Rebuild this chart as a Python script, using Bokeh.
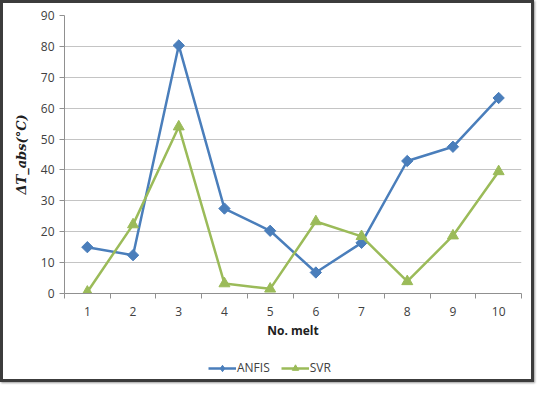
import math
from bokeh.plotting import figure
from bokeh.models import FixedTicker, Legend, LegendItem, Range1d
from bokeh.layouts import column
from bokeh.embed import file_html
from bokeh.resources import INLINE

melts = [1, 2, 3, 4, 5, 6, 7, 8, 9, 10]
x_labels = ["1", "2", "3", "4", "5", "6", "7", "8", "9", "10"]
anfis = [15.0, 12.4, 80.3, 27.5, 20.3, 6.8, 16.4, 42.9, 47.5, 63.3]
svr = [0.5, 22.3, 54.0, 3.2, 1.5, 23.3, 18.5, 3.9, 18.7, 39.5]
y_ticks = [0, 10, 20, 30, 40, 50, 60, 70, 80, 90]
series_names = ["ANFIS", "SVR"]

FONT = "Open Sans"
TXT = "#404040"
C_ANFIS = "#4a7ebb"
C_SVR = "#9bbb59"

p = figure(width=528, height=340, output_backend="svg", toolbar_location=None,
           x_range=Range1d(0.5, 10.5), y_range=Range1d(0, 90),
           min_border_left=61, min_border_right=10, min_border_top=12, min_border_bottom=50)
p.outline_line_color = None
p.xgrid.grid_line_color = None
p.ygrid.grid_line_color = "#c4c4c4"
p.ygrid.grid_line_width = 1.2

p.xaxis.ticker = FixedTicker(ticks=melts, minor_ticks=[m - 0.5 for m in melts] + [10.5])
p.xaxis.major_label_overrides = {m: l for m, l in zip(melts, x_labels)}
p.xaxis.major_tick_out = 0
p.xaxis.major_tick_in = 0
p.xaxis.minor_tick_out = 5
p.xaxis.minor_tick_in = 0
p.xaxis.minor_tick_line_color = "#909090"
p.xaxis.axis_line_color = "#909090"
p.xaxis.major_label_text_font = FONT
p.xaxis.major_label_text_font_size = "12px"
p.xaxis.major_label_text_color = TXT
p.xaxis.major_label_standoff = 8
p.xaxis.axis_label = "No. melt"
p.xaxis.axis_label_text_font = FONT
p.xaxis.axis_label_text_font_size = "12px"
p.xaxis.axis_label_text_font_style = "bold"
p.xaxis.axis_label_text_color = "#202020"
p.xaxis.axis_label_standoff = 3

p.yaxis.ticker = FixedTicker(ticks=y_ticks, minor_ticks=[])
p.yaxis.major_tick_out = 5
p.yaxis.major_tick_in = 0
p.yaxis.major_tick_line_color = "#909090"
p.yaxis.axis_line_color = "#909090"
p.yaxis.major_label_text_font = FONT
p.yaxis.major_label_text_font_size = "12px"
p.yaxis.major_label_text_color = TXT
p.yaxis.major_label_standoff = 5
p.yaxis.axis_label = "ΔT_abs(°C)"
p.yaxis.axis_label_text_font = "DejaVu Serif"
p.yaxis.axis_label_text_font_size = "13px"
p.yaxis.axis_label_text_font_style = "bold italic"
p.yaxis.axis_label_text_color = "#202020"
p.yaxis.axis_label_standoff = 9

p.line(melts, anfis, line_color=C_ANFIS, line_width=2.5)
p.scatter(melts, anfis, marker="square", angle=math.pi / 4, size=8,
          fill_color=C_ANFIS, line_color=C_ANFIS)
p.line(melts, svr, line_color=C_SVR, line_width=2.5)
p.scatter(melts, svr, marker="triangle", size=11, fill_color=C_SVR, line_color=C_SVR)

# legend strip below the chart: same series drawn out of view, used only as legend glyphs
q = figure(width=528, height=36, output_backend="svg", toolbar_location=None,
           x_axis_type=None, y_axis_type=None,
           x_range=Range1d(-200, -199), y_range=Range1d(-200, -199), min_border=0)
q.outline_line_color = None
q.grid.grid_line_color = None
items = []
for name, ys, col, mk, sz in [(series_names[0], anfis, C_ANFIS, "diamond", 11),
                              (series_names[1], svr, C_SVR, "triangle", 9)]:
    lr = q.line(melts, ys, line_color=col, line_width=2.5)
    mr = q.scatter(melts, ys, marker=mk, size=sz, fill_color=col, line_color=col)
    items.append(LegendItem(label=name, renderers=[lr, mr]))
legend = Legend(items=items, orientation="horizontal", location=(144, 3),
                label_text_font=FONT, label_text_font_size="12px", label_text_color=TXT,
                border_line_color=None, background_fill_alpha=0,
                glyph_width=28, glyph_height=16, spacing=11, margin=0, padding=0,
                label_standoff=1)
q.add_layout(legend, "center")

layout = column(p, q, spacing=0,
                styles={"border": "3px solid #3c3c3c", "box-shadow": "1px 1px 2px #9a9a9a",
                        "background-color": "white"})

open("out.html", "w").write(file_html(layout, INLINE))
